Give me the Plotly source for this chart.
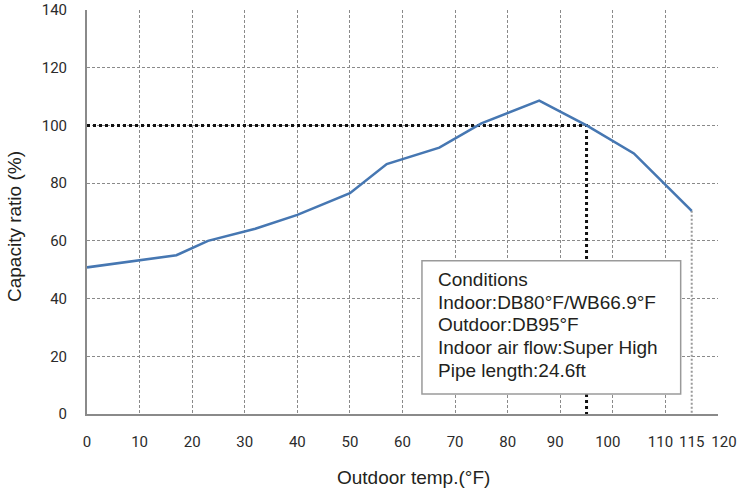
import plotly.graph_objects as go

# Curve data
temps = [0, 17, 23, 32, 40, 50, 57, 67, 75, 86, 95, 104, 115]
capacity = [50.8, 55.0, 60.0, 64.2, 69.0, 76.5, 86.6, 92.3, 100.7, 108.6, 100.0, 90.3, 70.4]

# Rated point (reference guide lines)
rated_temp = 95
rated_capacity = 100

x_grid_ticks = [0, 10, 20, 30, 40, 50, 60, 70, 80, 90, 100, 110, 120]
x_labels_main = [0, 10, 20, 30, 40, 50, 60, 70, 80]
x_labels_left = [90, 100, 110]
x_labels_mid = [115]
x_labels_right = [120]
y_ticks = [0, 20, 40, 60, 80, 100, 120, 140]

conditions = [
    "Conditions",
    "Indoor:DB80°F/WB66.9°F",
    "Outdoor:DB95°F",
    "Indoor air flow:Super High",
    "Pipe length:24.6ft",
]

tick_font = dict(family="Roboto, Liberation Sans, Arial", size=15, color="#2b2b2b")
text_font = dict(family="Liberation Sans, Arial, sans-serif", size=19, color="#231f20")
grid_color = "#8a8a8a"

fig = go.Figure()

# Guide line at rated point (black dotted)
fig.add_trace(go.Scatter(
    x=[0, rated_temp, rated_temp], y=[rated_capacity, rated_capacity, 0],
    mode="lines", line=dict(color="#111111", width=3, dash="dot"),
    hoverinfo="skip", showlegend=False,
))
# Guide line at last point (gray dotted)
fig.add_trace(go.Scatter(
    x=[temps[-1], temps[-1]], y=[capacity[-1], 0],
    mode="lines", line=dict(color="#9a9a9a", width=2, dash="2px,2px"),
    hoverinfo="skip", showlegend=False,
))
# Capacity curve
fig.add_trace(go.Scatter(
    x=temps, y=capacity, mode="lines",
    line=dict(color="#4677b2", width=2.6),
    showlegend=False,
))

main_ticktext = [str(v) if v in x_labels_main else "" for v in x_grid_ticks]

layout_axes = {}
overlay_sets = [("x2", x_labels_left, -5), ("x3", x_labels_mid, 0), ("x4", x_labels_right, 6)]
for ax_id, vals, shift in overlay_sets:
    fig.add_trace(go.Scatter(
        x=vals, y=[None] * len(vals), xaxis=ax_id, mode="markers",
        marker=dict(opacity=0), showlegend=False, hoverinfo="skip",
    ))
    layout_axes["xaxis" + ax_id[1:]] = dict(
        range=[0, 120], overlaying="x", side="bottom", anchor="y",
        tickvals=vals, ticktext=[str(v) for v in vals], ticklabelshift=shift,
        showgrid=False, showline=True, linecolor="rgba(0,0,0,0)", linewidth=2,
        ticks="", ticklabelstandoff=13, tickfont=tick_font, zeroline=False,
        automargin=False,
    )

fig.update_layout(
    width=738, height=492,
    margin=dict(l=87, r=20, t=10, b=78),
    paper_bgcolor="white", plot_bgcolor="white",
    xaxis=dict(
        range=[0, 120], tickvals=x_grid_ticks, ticktext=main_ticktext,
        showgrid=True, gridcolor=grid_color, gridwidth=1, griddash="3px,2px",
        showline=True, linecolor="#8a8a8a", linewidth=2,
        ticks="", ticklabelstandoff=13, tickfont=tick_font, zeroline=False,
        automargin=False,
    ),
    yaxis=dict(
        range=[0, 140], tickvals=y_ticks,
        showgrid=True, gridcolor=grid_color, gridwidth=1, griddash="3px,2px",
        showline=True, linecolor="#8a8a8a", linewidth=2,
        ticks="", ticklabelstandoff=15, tickfont=tick_font, zeroline=False,
        automargin=False,
    ),
    **layout_axes,
)

# Conditions box
fig.add_shape(type="rect", xref="x", yref="y", x0=63.7, x1=112.9, y0=6.9, y1=53.1,
              fillcolor="white", line=dict(color="#9a9a9a", width=1.5), layer="above")

line_tops = [46.7, 38.8, 30.9, 23.0, 15.1]
for txt, yy in zip(conditions, line_tops):
    fig.add_annotation(x=66.4, y=yy, xref="x", yref="y", text=txt, showarrow=False,
                       xanchor="left", yanchor="middle", font=text_font)

# Axis titles
fig.add_annotation(x=0.518, y=-0.156, xref="paper", yref="paper", text="Outdoor temp.(°F)",
                   showarrow=False, xanchor="center", yanchor="middle", font=text_font)
fig.add_annotation(x=-0.114, y=0.463, xref="paper", yref="paper", text="Capacity ratio (%)",
                   showarrow=False, xanchor="center", yanchor="middle", textangle=-90, font=text_font)

fig.write_html("out.html", config={"displayModeBar": False},
               post_script="document.body.style.margin='0';")
